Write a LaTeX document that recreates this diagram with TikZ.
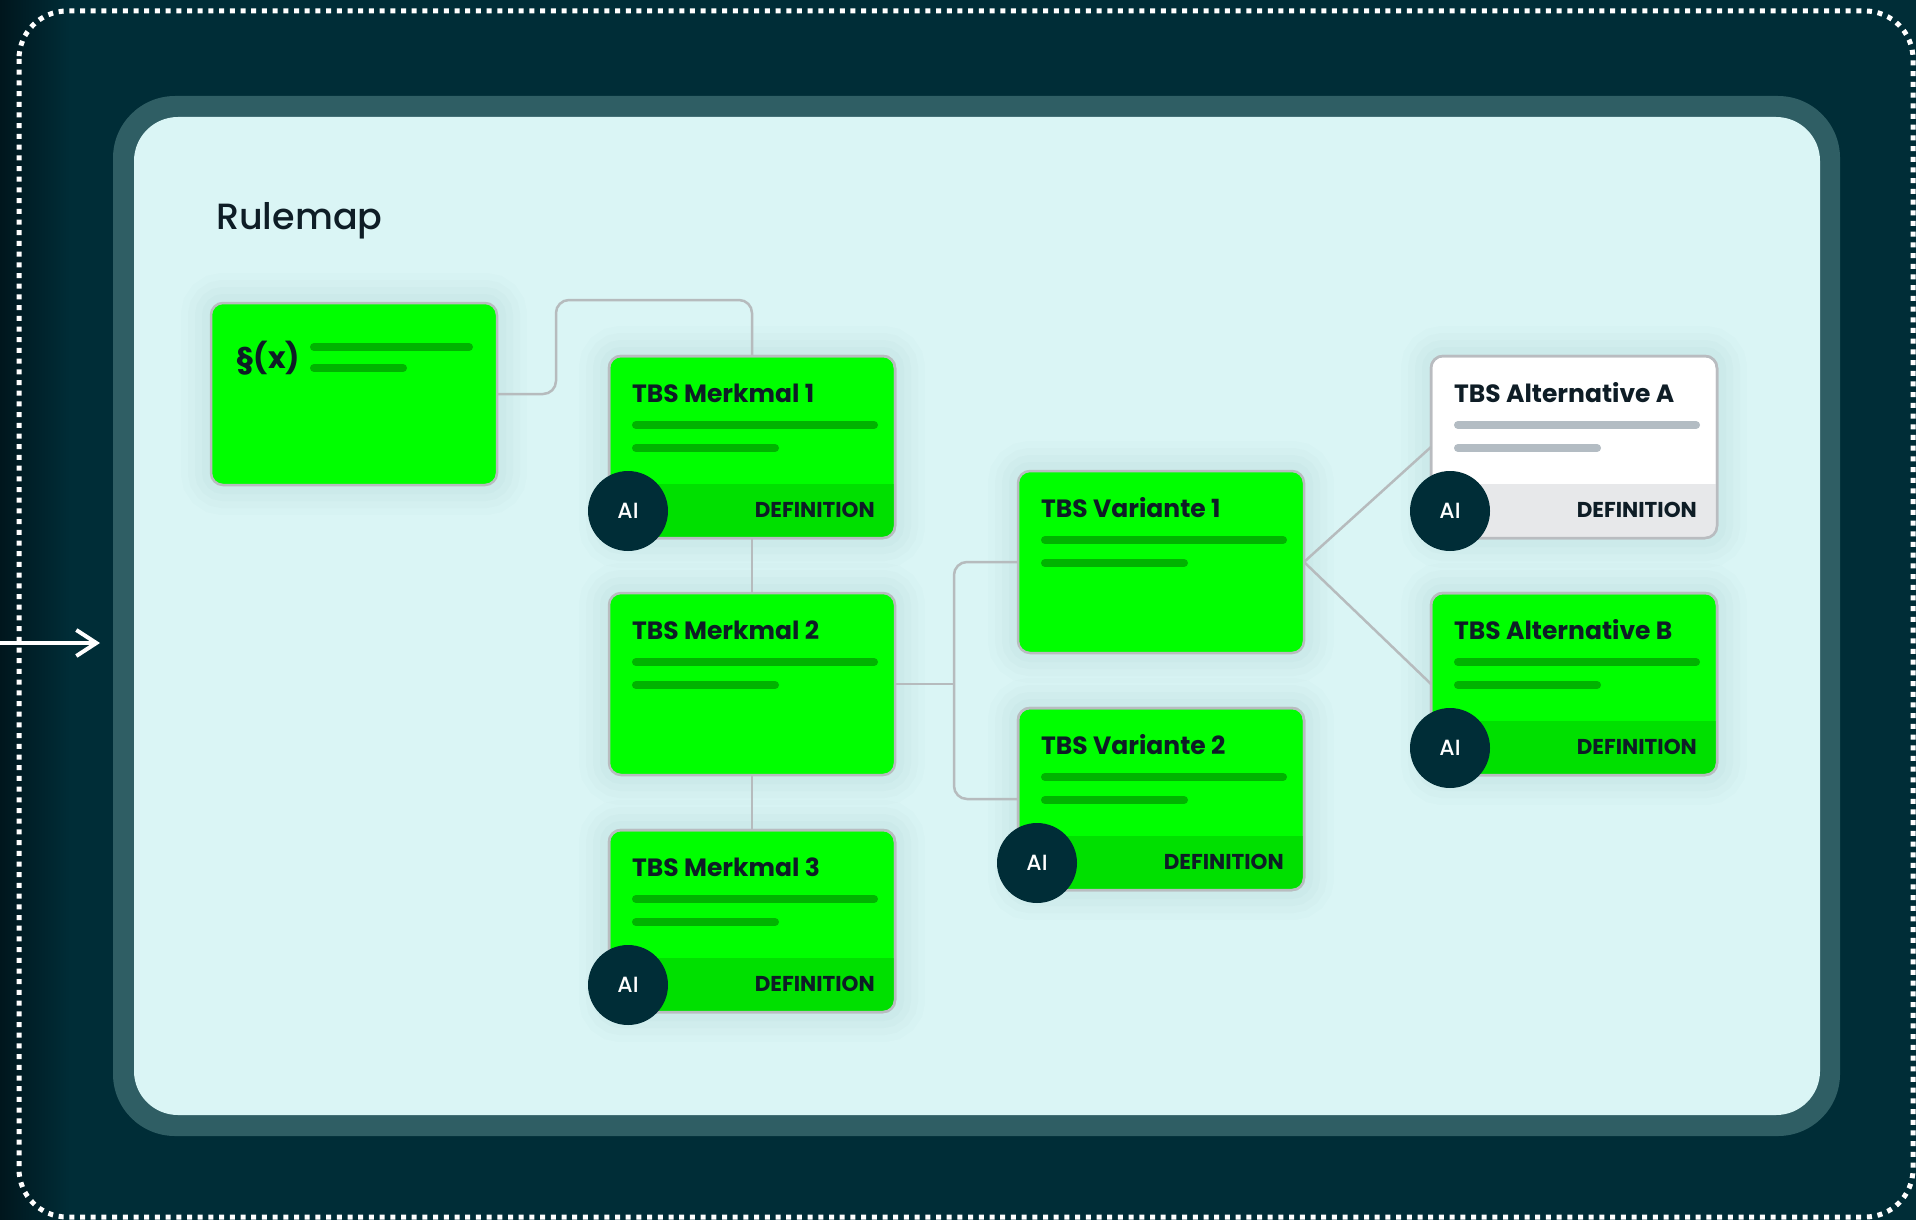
\documentclass[tikz,border=0pt]{standalone}
\usepackage{fontspec}
\setmainfont{Poppins}
\newfontfamily\medfont{Poppins Medium}
\usetikzlibrary{calc,arrows.meta}

\definecolor{bgdark}{HTML}{002D37}
\definecolor{bgedge}{HTML}{00161D}
\definecolor{panelrim}{HTML}{2F5E64}
\definecolor{panel}{HTML}{DAF5F5}
\definecolor{cardgreen}{HTML}{00FF00}
\definecolor{footgreen}{HTML}{00E000}
\definecolor{bargreen}{HTML}{00B300}
\definecolor{bargrey}{HTML}{B3BCC3}
\definecolor{footgrey}{HTML}{E7E8EA}
\definecolor{cardgrey}{HTML}{B9BCC0}
\definecolor{conngrey}{HTML}{B6BBBD}
\definecolor{cardshadow}{HTML}{2F6F70}
\definecolor{ink}{HTML}{0E1D26}

\tikzset{
  card/.style={rectangle, rounded corners=12pt, minimum width=286pt, minimum height=182pt,
    inner sep=0pt, outer sep=0pt, draw=cardgrey, line width=2.5pt,
    preaction={draw=cardshadow, line width=60pt, draw opacity=.012},
    preaction={draw=cardshadow, line width=46pt, draw opacity=.015},
    preaction={draw=cardshadow, line width=32pt, draw opacity=.018},
    preaction={draw=cardshadow, line width=18pt, draw opacity=.022}},
  cardedge/.style={draw=cardgrey, line width=2.5pt, rounded corners=12pt},
  cardtitle/.style={anchor=base west, inner sep=0pt, text=ink, font=\bfseries\fontsize{25}{30}\selectfont},
  deflabel/.style={anchor=base east, inner sep=0pt, text=ink, font=\bfseries\fontsize{21.5}{26}\selectfont},
  ai/.style={circle, fill=bgdark, minimum size=80pt, inner sep=0pt, text=white, font=\medfont\fontsize{22}{26}\selectfont},
  bar/.style={line width=8pt, line cap=round},
  conn/.style={draw=conngrey, line width=2.5pt, rounded corners=13pt},
  heading/.style={anchor=base west, inner sep=0pt, text=ink, font=\medfont\fontsize{36.5}{44}\selectfont},
  frame/.style={draw=white, line width=5pt, dash pattern=on 5pt off 5.7pt, rounded corners=48pt},
  inarrow/.style={draw=white, line width=4pt, -{Straight Barb[length=20pt, width=26pt]}}
}

% card body: name, centre, title, fill, bar colour
\newcommand\rulecard[5]{%
  \node[card, fill=#4] (#1) at (#2) {};
  \draw[bar, #5] ($(#1.north west)+(27,69)$) -- ($(#1.north east)+(-21,69)$);
  \draw[bar, #5] ($(#1.north west)+(27,92)$) -- ($(#1.north west)+(166,92)$);
  \node[cardtitle] at ($(#1.north west)+(23,46)$) {#3};
}
% card footer: name, footer colour
\newcommand\cardfoot[2]{%
  \begin{scope}
    \clip[rounded corners=12pt] (#1.south west) rectangle (#1.north east);
    \fill[#2] (#1.south west) rectangle ($(#1.south east)+(0,-54)$);
  \end{scope}
  \draw[cardedge] (#1.south west) rectangle (#1.north east);
  \node[deflabel] at ($(#1.south east)+(-20,-21)$) {DEFINITION};
  \node[ai] at ($(#1.south west)+(19,-27)$) {AI};
}

\begin{document}
\begin{tikzpicture}[x=1pt, y=-1pt]
  \useasboundingbox (0,0) rectangle (1916,1220);
  % backdrop and panel
  \fill[bgdark] (0,0) rectangle (1916,1220);
  \shade[left color=bgedge, right color=bgdark] (0,0) rectangle (70,1220);
  \draw[frame] (19,11) rectangle (1913,1217);
  \fill[panelrim, rounded corners=62pt] (113,96) rectangle (1840,1136);
  \fill[panel, rounded corners=44pt] (134,117) rectangle (1820,1115);
  \coordinate (in) at (0,643);
  \coordinate (inend) at (100,643);
  \draw[inarrow] (in) -- (inend);
  \node[heading] (title) at (216,229) {Rulemap};

  % paragraph card
  \node[card, fill=cardgreen] (px) at (354,394) {};
  \node[cardtitle, font=\bfseries\fontsize{30}{36}\selectfont] at ($(px.north west)+(25,65)$) {§(x)};
  \draw[bar, bargreen] ($(px.north west)+(103,44)$) -- ($(px.north west)+(258,44)$);
  \draw[bar, bargreen] ($(px.north west)+(103,65)$) -- ($(px.north west)+(192,65)$);

  % features
  \rulecard{m1}{752,447}{TBS Merkmal 1}{cardgreen}{bargreen}
  \cardfoot{m1}{footgreen}
  \rulecard{m2}{752,684}{TBS Merkmal 2}{cardgreen}{bargreen}
  \rulecard{m3}{752,921}{TBS Merkmal 3}{cardgreen}{bargreen}
  \cardfoot{m3}{footgreen}

  % variants
  \rulecard{v1}{1161,562}{TBS Variante 1}{cardgreen}{bargreen}
  \rulecard{v2}{1161,799}{TBS Variante 2}{cardgreen}{bargreen}
  \cardfoot{v2}{footgreen}

  % alternatives
  \rulecard{a}{1574,447}{TBS Alternative A}{white}{bargrey}
  \cardfoot{a}{footgrey}
  \rulecard{b}{1574,684}{TBS Alternative B}{cardgreen}{bargreen}
  \cardfoot{b}{footgreen}

  % connectors
  \draw[conn] (px.east) -- ++(59,0) |- ($(m1.north)+(0,-56)$) -- (m1.north);
  \draw[conn] (m1.south) -- (m2.north);
  \draw[conn] (m2.south) -- (m3.north);
  \draw[conn] (m2.east) -- ++(59,0) coordinate (bus);
  \draw[conn] (v1.west) -| (bus) |- (v2.west);
  \draw[conn] (v1.east) -- (a.west);
  \draw[conn] (v1.east) -- (b.west);
\end{tikzpicture}
\end{document}
